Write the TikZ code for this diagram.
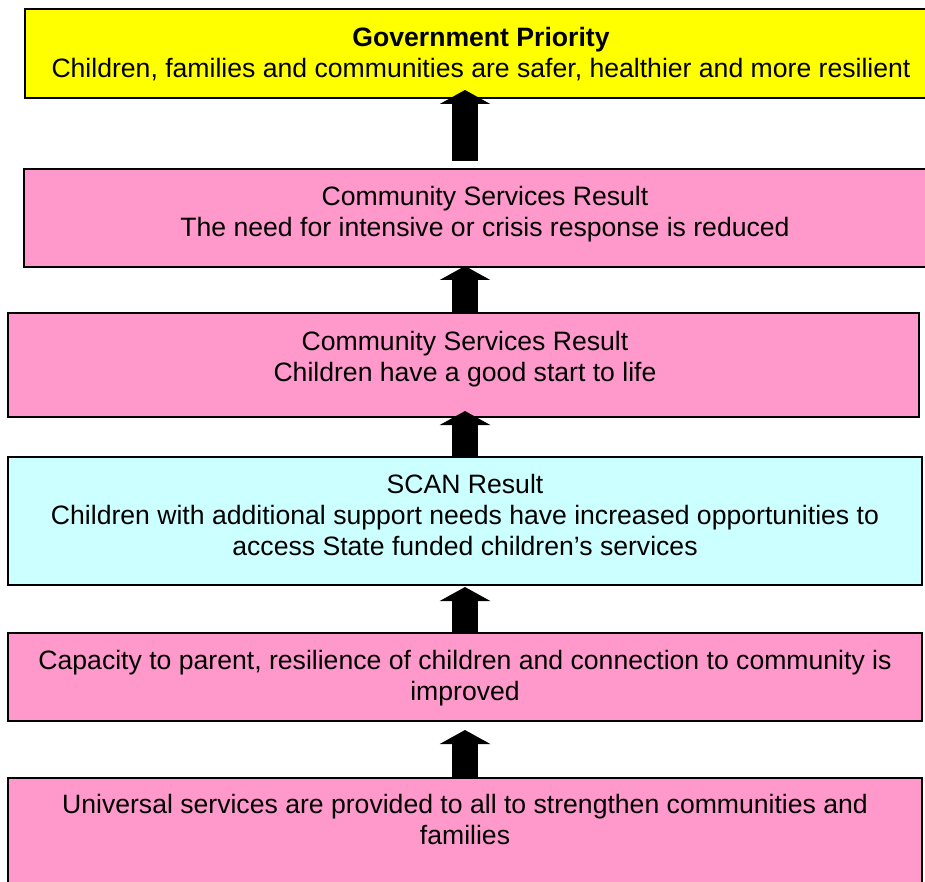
\documentclass[tikz,border=0pt]{standalone}
\usepackage{fontspec}
\setmainfont{Liberation Sans}
\usetikzlibrary{arrows.meta}
\definecolor{govyellow}{HTML}{FFFF00}
\definecolor{respink}{HTML}{FF99CC}
\definecolor{scancyan}{HTML}{CCFFFF}
\tikzset{
  result/.style={draw=black, line width=2pt, inner sep=0pt},
  restext/.style={align=center, anchor=north},
  bigarrow/.style={line width=26pt, -{Triangle[width=50pt,length=14pt]}}
}
\begin{document}
\begin{tikzpicture}[x=1pt, y=-1pt, font=\fontsize{26.6}{31}\selectfont]
\useasboundingbox (0,0) rectangle (925,882);
\clip (0,0) rectangle (925,882);
\coordinate (axis) at (465,0);
% result boxes
\node [result, fill=govyellow, minimum width=912pt, minimum height=89pt] (b1) at (481,53.5) {};
\node [result, fill=respink, minimum width=921pt, minimum height=98pt] (b2) at (484.5,218) {};
\node [result, fill=respink, minimum width=911pt, minimum height=104pt] (b3) at (463.5,365) {};
\node [result, fill=scancyan, minimum width=914pt, minimum height=128pt] (b4) at (465,521) {};
\node [result, fill=respink, minimum width=914pt, minimum height=88pt] (b5) at (465,677) {};
\node [result, fill=respink, minimum width=914pt, minimum height=122pt] (b6) at (465,839) {};
% texts
\node [restext] (t1) at (481,24) {\textbf{Government Priority}\\ Children, families and communities are safer, healthier and more resilient};
\node [restext] (t2) at (485,183) {Community Services Result\\ The need for intensive or crisis response is reduced};
\node [restext] (t3) at (465,328) {Community Services Result\\ Children have a good start to life};
\node [restext] (t4) at (465,471) {SCAN Result\\ Children with additional support needs have increased opportunities to\\ access State funded children’s services};
\node [restext] (t5) at (465,647) {Capacity to parent, resilience of children and connection to community is\\ improved};
\node [restext] (t6) at (465,791) {Universal services are provided to all to strengthen communities and\\ families};
% arrows
\draw [bigarrow] ([yshift=7pt]b2.north -| axis) -- ([yshift=9pt]b1.south -| axis);
\draw [bigarrow] (b3.north -| axis) -- ([yshift=2pt]b2.south -| axis);
\draw [bigarrow] (b4.north -| axis) -- ([yshift=7pt]b3.south -| axis);
\draw [bigarrow] (b5.north -| axis) -- ([yshift=-1pt]b4.south -| axis);
\draw [bigarrow] (b6.north -| axis) -- ([yshift=-8pt]b5.south -| axis);
\end{tikzpicture}
\end{document}
